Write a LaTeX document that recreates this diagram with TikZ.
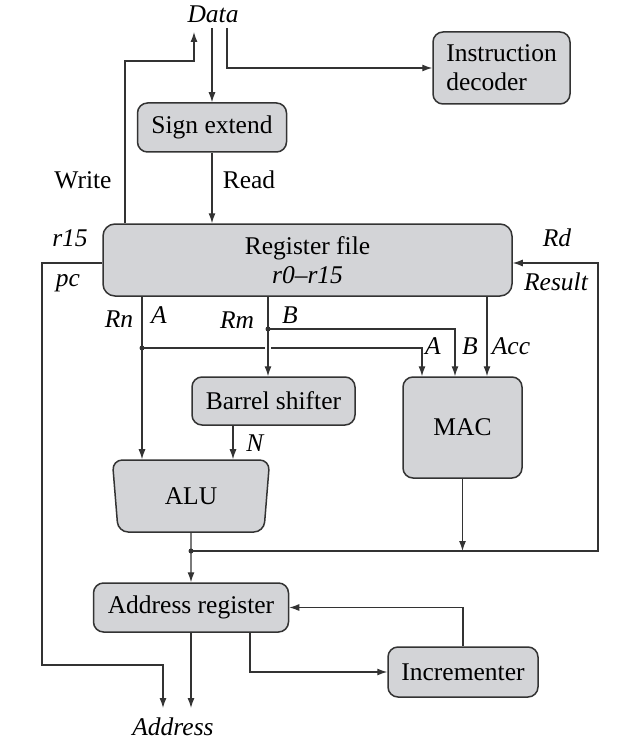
\documentclass[tikz,border=0pt]{standalone}
\usepackage{fontspec}
\setmainfont{Liberation Serif}
\usetikzlibrary{arrows.meta,shapes.geometric}
\definecolor{boxgray}{HTML}{D3D4D7}
\definecolor{edge}{HTML}{333333}

\begin{document}
\begin{tikzpicture}[x=1pt,y=-1pt,
        font=\fontsize{25.5}{29}\selectfont,
        unit/.style={draw=edge, fill=boxgray, line width=1.5pt, rounded corners=10pt, inner sep=0pt},
        wire/.style={draw=edge, line width=1.2pt},
        arr/.style={wire, -{Latex[length=10pt,width=7pt]}},
        lbl/.style={inner sep=0pt},
        ilbl/.style={lbl, font=\fontsize{25.5}{29}\selectfont\itshape},
        dot/.style={circle, fill=edge, inner sep=0pt, minimum size=5pt}]
        \useasboundingbox (0,0) rectangle (638,746);
        % units
        \node[unit, minimum width=137pt, minimum height=72pt, align=left] (decoder) at (501.5,68) {Instruction\\decoder};
        \node[unit, minimum width=149pt, minimum height=49pt] (sign) at (212,127.5) {Sign extend};
        \node[unit, minimum width=409pt, minimum height=72pt, align=center, rounded corners=12pt] (regfile) at (307.5,260) {Register file\\\textit{r0--r15}};
        \node[unit, minimum width=163pt, minimum height=48pt] (barrel) at (273.5,401) {Barrel shifter};
        \node[unit, minimum width=119pt, minimum height=101pt] (mac) at (462.5,427.5) {MAC};
        \node[unit, trapezium, shape border rotate=180, trapezium angle=83, trapezium stretches=true, minimum width=158pt, minimum height=72pt] (alu) at (191,496) {ALU};
        \node[unit, minimum width=195pt, minimum height=49pt] (addr) at (191,607.5) {Address register};
        \node[unit, minimum width=150pt, minimum height=50pt] (incr) at (463,672) {Incrementer};
        % labels
        \node[ilbl] (data) at (213,14) {Data};
        \node[lbl] (write) at (83,180) {Write};
        \node[lbl] (read) at (249,180) {Read};
        \node[ilbl] (r15) at (70,238) {r15};
        \node[ilbl] (pc) at (68,283) {pc};
        \node[ilbl] (rd) at (557,238) {Rd};
        \node[ilbl] (result) at (556,282) {Result};
        \node[ilbl] (rn) at (119,319) {Rn};
        \node[ilbl] (rfa) at (159,315) {A};
        \node[ilbl] (rm) at (237,320) {Rm};
        \node[ilbl] (rfb) at (290,315) {B};
        \node[ilbl] (maca) at (433,346) {A};
        \node[ilbl] (macb) at (470,346) {B};
        \node[ilbl] (acc) at (511,346) {Acc};
        \node[ilbl] (n) at (255,443) {N};
        \node[ilbl] (address) at (173,727) {Address};
        % bends and free ends
        \coordinate (wrbend) at (125,61);
        \coordinate (wrend) at (194,32);
        \coordinate (rdstart) at (212,28);
        \coordinate (idstart) at (227,28);
        \coordinate (pcbend) at (42,665);
        \coordinate (pcend) at (163,708);
        \coordinate (resbus) at (598,551);
        \coordinate (abranch) at (142,348);
        \coordinate (bbranch) at (268,329);
        \coordinate (nline) at (233,430);
        \coordinate (accline) at (487,300);
        \coordinate (incline) at (250,672);
        \coordinate (addrend) at (191,708);
        % data bus
        \draw[arr] (regfile.north -| wrbend) -- (wrbend) -| (wrend);
        \draw[arr] (rdstart) -- (sign.north);
        \draw[arr] (idstart) |- (decoder.west);
        \draw[arr] (sign.south) -- (sign.south |- regfile.north);
        % pc and result
        \draw[arr] ([yshift=-3pt]regfile.west) -| (pcbend) -| (pcend);
        \draw[arr] (alu.south |- resbus) -- (resbus) |- ([yshift=-3pt]regfile.east);
        % operands
        \draw[arr] (regfile.south -| abranch) -- (abranch |- alu.north);
        \draw[arr] (abranch) -| ([xshift=-40.5pt]mac.north);
        \draw[arr, preaction={draw=white, line width=6pt, -, shorten <=4pt, shorten >=12pt}] (regfile.south -| bbranch) -- (bbranch |- barrel.north);
        \draw[arr] (bbranch) -| ([xshift=-7.5pt]mac.north);
        \draw[arr] (regfile.south -| accline) -- (accline |- mac.north);
        \draw[arr] (barrel.south -| nline) -- (nline |- alu.north);
        \node[dot] (adot) at (abranch) {};
        \node[dot] (bdot) at (bbranch) {};
        % results and address
        \draw[arr] (mac.south) -- (mac.south |- resbus);
        \draw[arr] (alu.south) -- (addr.north);
        \node[dot] (rdot) at (alu.south |- resbus) {};
        \draw[arr] (incr.north) |- (addr.east);
        \draw[arr] (addr.south -| incline) |- (incr.west);
        \draw[arr] (addr.south) -- (addrend);
\end{tikzpicture}
\end{document}
